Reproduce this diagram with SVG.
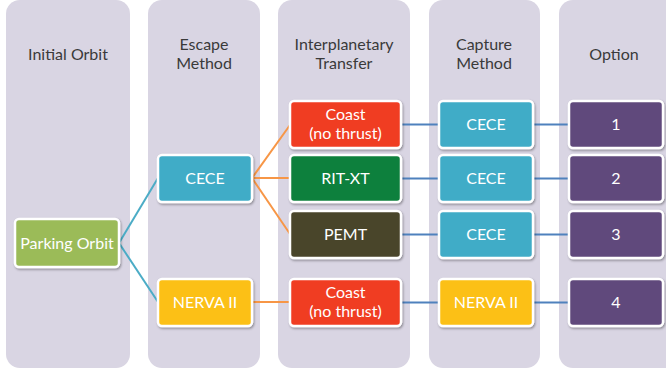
<svg xmlns="http://www.w3.org/2000/svg" width="666" height="374" viewBox="0 0 666 374">
<defs>
<filter id="sh" x="-10%" y="-10%" width="130%" height="140%">
<feDropShadow dx="1" dy="1.5" stdDeviation="1.2" flood-color="#000" flood-opacity="0.35"/>
</filter>
<style>
.lane{fill:#D9D5E3}
.hd{font-family:Lato,"Open Sans","Liberation Sans",sans-serif;font-size:16px;fill:#3A3A3A;text-anchor:middle}
.nd rect{stroke:#fff;stroke-width:2.5;filter:url(#sh)}
.nd text{font-family:Lato,"Open Sans","Liberation Sans",sans-serif;font-size:16px;fill:#fff;text-anchor:middle}
.c1{stroke:#4BACC6;stroke-width:2;fill:none}
.c2{stroke:#F79646;stroke-width:2;fill:none}
.c3{stroke:#4F81BD;stroke-width:2;fill:none}
</style>
</defs>
<rect width="666" height="374" fill="#fff"/>
<g id="lanes">
<rect class="lane" x="6" y="0" width="124" height="368" rx="14"/>
<rect class="lane" x="148" y="0" width="112" height="368" rx="14"/>
<rect class="lane" x="278" y="0" width="132" height="368" rx="14"/>
<rect class="lane" x="429" y="0" width="111" height="368" rx="14"/>
<rect class="lane" x="559" y="0" width="124" height="368" rx="14"/>
</g>
<g id="headers">
<text class="hd" x="68" y="60">Initial Orbit</text>
<text class="hd" x="204" y="50">Escape</text>
<text class="hd" x="204" y="69">Method</text>
<text class="hd" x="344" y="50">Interplanetary</text>
<text class="hd" x="344" y="69">Transfer</text>
<text class="hd" x="484" y="50">Capture</text>
<text class="hd" x="484" y="69">Method</text>
<text class="hd" x="614" y="60">Option</text>
</g>
<g id="connectors">
<path class="c1" d="M119 243 L158 178"/>
<path class="c1" d="M119 243 L158 302"/>
<path class="c2" d="M252 178 L290 125"/>
<path class="c2" d="M252 178 L290 178"/>
<path class="c2" d="M252 178 L290 234"/>
<path class="c2" d="M252 302 L290 302"/>
<path class="c3" d="M401 124.5 L439 124.5"/>
<path class="c3" d="M401 178.5 L439 178.5"/>
<path class="c3" d="M401 234.5 L439 234.5"/>
<path class="c3" d="M401 302.5 L439 302.5"/>
<path class="c3" d="M533 124.5 L569 124.5"/>
<path class="c3" d="M533 178.5 L569 178.5"/>
<path class="c3" d="M533 234.5 L569 234.5"/>
<path class="c3" d="M533 302.5 L569 302.5"/>
</g>
<g id="parking" class="nd"><rect x="15" y="219" width="104" height="48" rx="4" fill="#9BBB59"/><text x="67" y="249">Parking Orbit</text></g>
<g id="esc-cece" class="nd"><rect x="158" y="155" width="94" height="47" rx="4" fill="#40ACC7"/><text x="205" y="184">CECE</text></g>
<g id="esc-nerva" class="nd"><rect x="158" y="279" width="94" height="47" rx="4" fill="#FCC012"/><text x="205" y="308">NERVA II</text></g>
<g id="tr-coast1" class="nd"><rect x="290" y="101" width="111" height="47" rx="4" fill="#F03C23"/><text x="345.5" y="120">Coast</text><text x="345.5" y="139">(no thrust)</text></g>
<g id="tr-rit" class="nd"><rect x="290" y="155" width="111" height="47" rx="4" fill="#10803C"/><text x="345.5" y="184">RIT-XT</text></g>
<g id="tr-pemt" class="nd"><rect x="290" y="211" width="111" height="47" rx="4" fill="#4A4429"/><text x="345.5" y="240">PEMT</text></g>
<g id="tr-coast2" class="nd"><rect x="290" y="279" width="111" height="47" rx="4" fill="#F03C23"/><text x="345.5" y="298">Coast</text><text x="345.5" y="317">(no thrust)</text></g>
<g id="cap-cece1" class="nd"><rect x="439" y="101" width="94" height="47" rx="4" fill="#40ACC7"/><text x="486" y="130">CECE</text></g>
<g id="cap-cece2" class="nd"><rect x="439" y="155" width="94" height="47" rx="4" fill="#40ACC7"/><text x="486" y="184">CECE</text></g>
<g id="cap-cece3" class="nd"><rect x="439" y="211" width="94" height="47" rx="4" fill="#40ACC7"/><text x="486" y="240">CECE</text></g>
<g id="cap-nerva" class="nd"><rect x="439" y="279" width="94" height="47" rx="4" fill="#FCC012"/><text x="486" y="308">NERVA II</text></g>
<g id="opt1" class="nd"><rect x="569" y="101" width="94" height="47" rx="4" fill="#604A7B"/><text x="616" y="130">1</text></g>
<g id="opt2" class="nd"><rect x="569" y="155" width="94" height="47" rx="4" fill="#604A7B"/><text x="616" y="184">2</text></g>
<g id="opt3" class="nd"><rect x="569" y="211" width="94" height="47" rx="4" fill="#604A7B"/><text x="616" y="240">3</text></g>
<g id="opt4" class="nd"><rect x="569" y="279" width="94" height="47" rx="4" fill="#604A7B"/><text x="616" y="308">4</text></g>
</svg>
